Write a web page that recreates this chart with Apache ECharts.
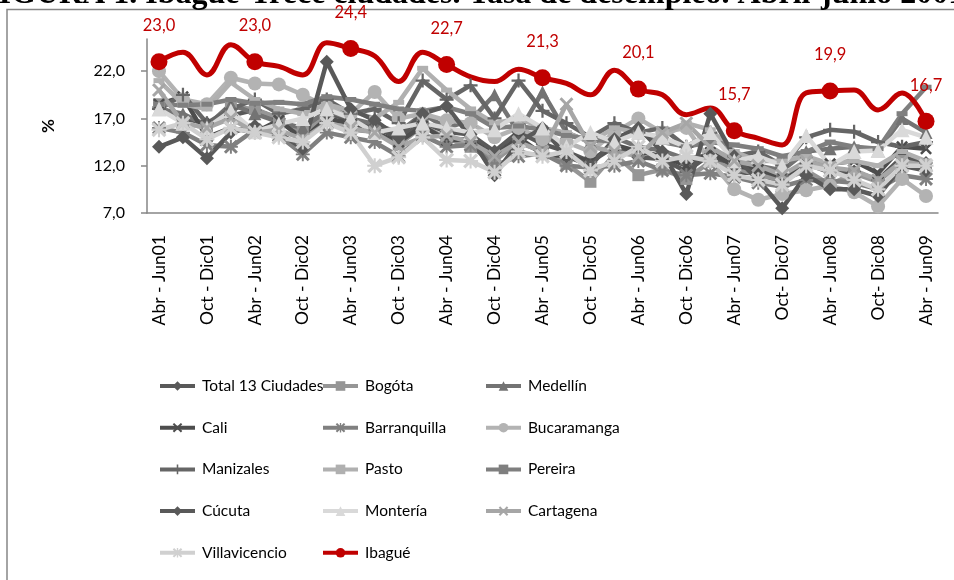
<!DOCTYPE html>
<html>
<head>
<meta charset="utf-8">
<script src="https://cdn.jsdelivr.net/npm/echarts@6/dist/echarts.min.js"></script>
<style>
  html, body { margin: 0; padding: 0; background: #fff; }
  #chart { width: 954px; height: 580px; }
</style>
</head>
<body>
<div id="chart"></div>
<script>
const categories = [
  'Abr - Jun01', 'Jul - Sep01', 'Oct - Dic01', 'Ene - Mar02',
  'Abr - Jun02', 'Jul - Sep02', 'Oct - Dic02', 'Ene - Mar03',
  'Abr - Jun03', 'Jul - Sep03', 'Oct - Dic03', 'Ene - Mar04',
  'Abr - Jun04', 'Jul - Sep04', 'Oct - Dic04', 'Ene - Mar05',
  'Abr - Jun05', 'Jul - Sep05', 'Oct - Dic05', 'Ene - Mar06',
  'Abr - Jun06', 'Jul - Sep06', 'Oct - Dic06', 'Ene - Mar07',
  'Abr - Jun07', 'Jul - Sep07', 'Oct- Dic07', 'Ene - Mar08',
  'Abr - Jun08', 'Jul - Sep08', 'Oct- Dic08', 'Ene - Mar09',
  'Abr - Jun09'
];

const total13 = [18.2, 17.0, 16.5, 17.3, 17.9, 17.0, 15.5, 17.6, 16.8, 16.2, 14.8, 16.5, 15.6, 15.3, 13.5, 15.6, 14.3, 13.5, 12.4, 14.0, 12.9, 12.7, 11.4, 13.2, 11.3, 11.2, 10.2, 12.2, 11.3, 11.4, 10.5, 12.9, 12.3];
const bogota = [18.5, 16.5, 16.0, 18.2, 18.0, 17.0, 15.6, 17.2, 15.8, 15.6, 14.2, 16.2, 14.9, 14.0, 12.5, 14.5, 13.5, 12.2, 10.3, 13.2, 11.0, 11.6, 10.6, 12.4, 11.8, 11.0, 10.5, 11.5, 10.0, 11.2, 10.3, 12.5, 11.8];
const medellin = [18.0, 17.5, 16.2, 18.5, 17.5, 16.6, 16.0, 17.8, 17.0, 16.4, 15.5, 17.5, 16.0, 16.8, 19.5, 15.5, 19.8, 15.5, 14.5, 15.0, 14.0, 13.6, 12.7, 13.2, 12.8, 12.0, 11.5, 13.5, 13.8, 14.0, 13.6, 17.0, 15.5];
const cali = [18.5, 19.3, 15.0, 16.0, 15.5, 16.8, 14.8, 17.0, 16.5, 15.5, 14.5, 16.2, 14.7, 14.8, 13.0, 15.0, 13.2, 13.0, 12.5, 14.2, 13.5, 13.0, 12.0, 13.4, 12.0, 11.6, 10.8, 12.3, 12.2, 12.5, 11.2, 14.0, 13.8];
const barranquilla = [16.0, 15.5, 14.2, 14.0, 15.8, 15.2, 13.2, 15.5, 15.0, 14.5, 13.0, 15.2, 14.0, 14.2, 12.0, 13.0, 13.3, 12.0, 11.8, 12.0, 12.5, 11.5, 11.0, 11.2, 10.8, 10.2, 9.8, 10.5, 10.4, 10.2, 9.5, 11.0, 10.6];
const bucaramanga = [22.0, 19.0, 18.5, 21.3, 20.7, 20.6, 19.5, 18.2, 17.5, 19.8, 17.0, 17.5, 16.8, 16.5, 15.0, 16.0, 14.8, 14.5, 13.5, 15.5, 17.0, 15.5, 16.0, 12.5, 9.5, 8.4, 9.0, 9.4, 9.9, 9.2, 7.7, 10.6, 8.8];
const manizales = [18.0, 19.5, 16.5, 18.0, 19.0, 17.5, 18.0, 19.0, 17.5, 18.0, 16.5, 21.0, 19.0, 20.5, 17.0, 21.0, 17.8, 16.5, 15.0, 16.5, 15.5, 16.0, 14.0, 15.5, 13.0, 13.5, 12.0, 15.0, 15.8, 15.6, 14.5, 14.0, 14.5];
const pasto = [21.0, 18.5, 18.0, 20.8, 19.0, 18.0, 17.5, 18.5, 17.8, 17.0, 18.7, 22.3, 20.0, 18.0, 16.5, 17.0, 16.0, 15.5, 14.5, 16.0, 15.5, 15.0, 16.5, 15.8, 13.5, 12.5, 12.5, 13.0, 12.2, 12.5, 12.0, 13.5, 12.5];
const pereira = [18.5, 18.4, 18.5, 19.0, 18.6, 18.7, 18.5, 19.3, 19.0, 18.5, 18.0, 17.8, 18.2, 17.5, 16.0, 16.2, 15.8, 15.2, 14.8, 14.5, 15.8, 14.5, 14.0, 14.5, 14.2, 13.8, 13.0, 13.5, 14.5, 14.0, 13.8, 17.5, 20.3];
const cucuta = [14.0, 15.0, 12.8, 15.5, 16.2, 15.5, 13.8, 23.0, 18.0, 16.8, 15.0, 17.5, 18.3, 15.0, 11.0, 14.5, 16.0, 13.0, 12.0, 14.8, 16.0, 13.5, 9.0, 17.5, 13.0, 10.5, 7.5, 11.0, 9.5, 9.5, 8.8, 12.0, 11.5];
const monteria = [18.0, 16.5, 16.0, 17.8, 15.6, 16.4, 17.0, 18.0, 17.0, 15.5, 16.0, 16.5, 16.0, 15.5, 15.8, 17.5, 16.0, 14.0, 15.5, 14.5, 15.5, 15.0, 14.0, 15.5, 12.5, 13.0, 12.0, 15.2, 12.0, 13.5, 13.6, 15.8, 15.0];
const cartagena = [20.0, 16.5, 16.0, 17.0, 15.5, 15.8, 14.8, 16.5, 16.0, 15.5, 14.0, 15.0, 15.2, 14.5, 13.0, 14.5, 13.5, 18.5, 14.0, 13.5, 13.0, 15.5, 16.5, 14.0, 12.5, 12.0, 11.0, 12.5, 11.8, 11.5, 10.5, 12.5, 12.0];
const villavicencio = [15.8, 16.5, 14.8, 16.0, 15.5, 15.0, 14.5, 16.5, 15.5, 12.0, 12.9, 15.0, 12.6, 12.5, 11.3, 13.5, 13.0, 13.5, 11.5, 12.5, 14.0, 12.5, 13.0, 12.5, 11.0, 10.5, 10.0, 12.0, 11.5, 10.5, 9.5, 12.0, 12.0];
const ibague = [23.0, 24.0, 21.6, 24.8, 23.0, 22.5, 21.6, 25.0, 24.4, 23.6, 20.9, 24.0, 22.7, 21.4, 20.9, 22.2, 21.3, 20.7, 19.5, 22.1, 20.1, 19.5, 17.4, 18.1, 15.7, 14.9, 14.2, 19.7, 19.9, 20.0, 17.9, 19.7, 16.7];

const yTicks = [7, 12, 17, 22];

// marcadores que no existen en echarts
const xMark = 'path://M1.5,0L5,3.5L8.5,0L10,1.5L6.5,5L10,8.5L8.5,10L5,6.5L1.5,10L0,8.5L3.5,5L0,1.5Z';
const plusMark = 'path://M4.2,0H5.8V4.2H10V5.8H5.8V10H4.2V5.8H0V4.2H4.2Z';
const starMark = 'path://M1.5,0L5,3.5L8.5,0L10,1.5L6.5,5L10,8.5L8.5,10L5,6.5L1.5,10L0,8.5L3.5,5L0,1.5Z' +
  'M4.3,0H5.7V10H4.3Z M0,4.3H10V5.7H0Z';

const fmt = v => v.toFixed(1).replace('.', ',');

function greySeries(name, data, color, symbol, size) {
  return {
    name,
    type: 'line',
    data,
    symbol,
    symbolSize: size,
    showAllSymbol: true,
    lineStyle: { color, width: 4.5 },
    itemStyle: { color },
    emphasis: { disabled: true }
  };
}

const chart = echarts.init(document.getElementById('chart'));

const legendBase = {
  orient: 'vertical',
  top: 378,
  padding: 0,
  itemWidth: 35,
  itemHeight: 12,
  itemGap: 25.7,
  selectedMode: false,
  lineStyle: { width: 4 },
  textStyle: { fontFamily: 'Lato', fontSize: 15.5, color: '#000', lineHeight: 16, padding: [0, 0, 0, 2] }
};

const option = {
  animation: false,
  graphic: [
    {
      type: 'rect',
      shape: { x: 7, y: 9.5, width: 980, height: 620 },
      style: { fill: 'none', stroke: '#868686', lineWidth: 1.5 }
    },
    {
      type: 'text',
      x: -21,
      y: 11,
      style: {
        text: 'FIGURA 1. Ibagué-Trece ciudades. Tasa de desempleo. Abril-junio 2001-2009',
        font: 'bold 32px "Liberation Serif"',
        fill: '#000',
        verticalAlign: 'bottom'
      }
    }
  ],
  grid: { left: 147, top: 39, width: 791, height: 174 },
  legend: [
    Object.assign({}, legendBase, { left: 158, data: ['Total 13 Ciudades', 'Cali', 'Manizales', 'Cúcuta', 'Villavicencio'] }),
    Object.assign({}, legendBase, { left: 321, data: ['Bogóta', 'Barranquilla', 'Pasto', 'Montería', 'Ibagué'] }),
    Object.assign({}, legendBase, { left: 484, data: ['Medellín', 'Bucaramanga', 'Pereira', 'Cartagena'] })
  ],
  xAxis: {
    type: 'category',
    data: categories,
    boundaryGap: true,
    axisLine: { lineStyle: { color: '#868686', width: 1.5 } },
    axisTick: { show: false },
    axisLabel: {
      interval: 1,
      rotate: 90,
      margin: 22,
      fontFamily: 'Lato',
      fontSize: 17.5,
      color: '#000'
    }
  },
  yAxis: {
    type: 'value',
    min: 7,
    max: 25.4,
    interval: 5,
    name: '%',
    nameLocation: 'middle',
    nameRotate: 90,
    nameGap: 90,
    nameTextStyle: { fontFamily: 'Lato', fontSize: 17, fontWeight: 'bold', color: '#000' },
    splitLine: { show: false },
    axisLine: { show: true, lineStyle: { color: '#868686', width: 1.5 } },
    axisTick: { show: true, inside: false, length: 6, customValues: yTicks, lineStyle: { color: '#868686', width: 1.5 } },
    axisLabel: {
      customValues: yTicks,
      margin: 22,
      fontFamily: 'Lato',
      fontSize: 16,
      color: '#000',
      formatter: v => fmt(v)
    }
  },
  series: [
    greySeries('Total 13 Ciudades', total13, '#595959', 'diamond', 14),
    greySeries('Bogóta', bogota, '#969696', 'rect', 12),
    greySeries('Medellín', medellin, '#737373', 'triangle', 13),
    greySeries('Cali', cali, '#4d4d4d', xMark, 12),
    greySeries('Barranquilla', barranquilla, '#808080', starMark, 14),
    greySeries('Bucaramanga', bucaramanga, '#b3b3b3', 'circle', 14),
    greySeries('Manizales', manizales, '#666666', plusMark, 14),
    greySeries('Pasto', pasto, '#b0b0b0', 'rect', [11, 5]),
    greySeries('Pereira', pereira, '#7f7f7f', 'rect', [11, 5]),
    greySeries('Cúcuta', cucuta, '#595959', 'diamond', 14),
    greySeries('Montería', monteria, '#d9d9d9', 'triangle', 15),
    greySeries('Cartagena', cartagena, '#a6a6a6', xMark, 14),
    greySeries('Villavicencio', villavicencio, '#d0d0d0', starMark, 15),
    {
      name: 'Ibagué',
      type: 'line',
      smooth: 0.4,
      symbol: 'circle',
      showAllSymbol: true,
      data: ibague.map((v, i) => i % 4 === 0
        ? { value: v, symbolSize: 17, label: { show: true } }
        : { value: v, symbolSize: 0 }),
      lineStyle: { color: '#c00000', width: 5 },
      itemStyle: { color: '#c00000' },
      label: {
        show: false,
        position: 'top',
        distance: 19,
        fontFamily: 'Lato',
        fontSize: 16.5,
        color: '#c00000',
        formatter: p => fmt(p.value)
      },
      emphasis: { disabled: true }
    }
  ]
};

chart.setOption(option);
</script>
</body>
</html>
